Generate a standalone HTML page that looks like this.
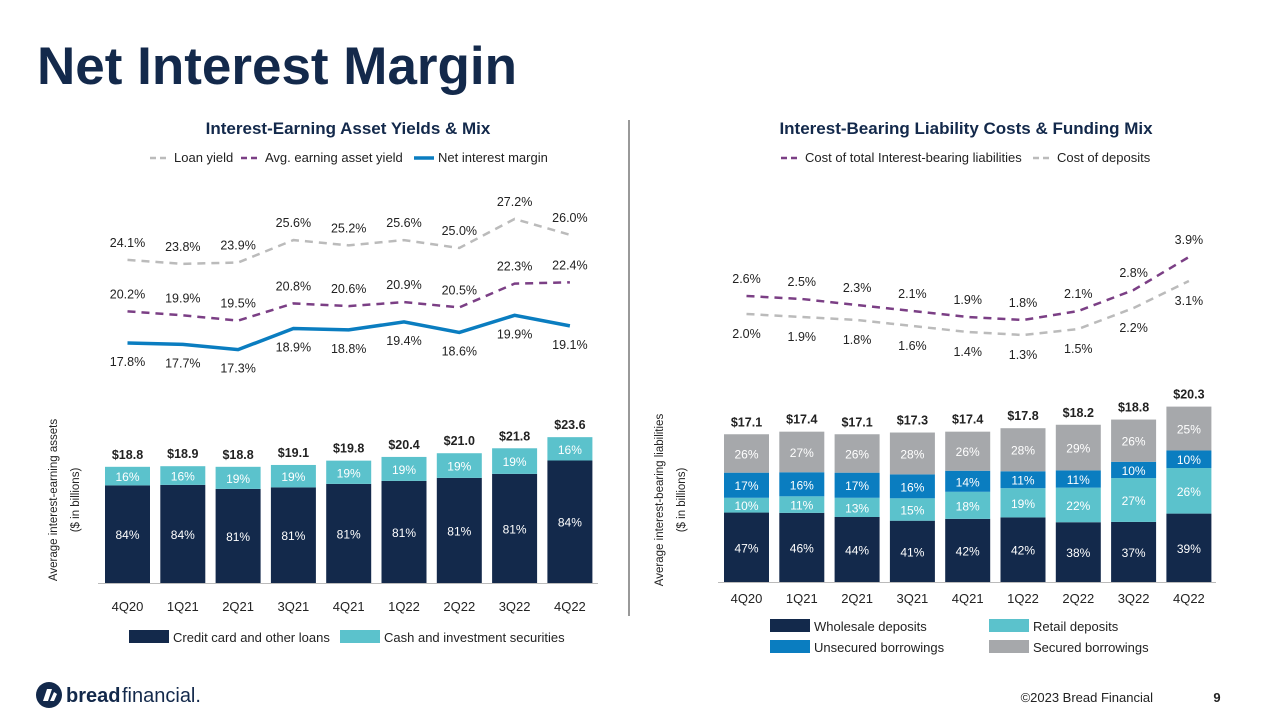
<!DOCTYPE html>
<html><head><meta charset="utf-8"><style>
body{margin:0;width:1280px;height:720px;background:#fff;font-family:"Liberation Sans",Arial,sans-serif;overflow:hidden}
svg text{font-family:"Liberation Sans",Arial,sans-serif}
</style></head><body>
<svg id="s" width="1280" height="720" xmlns="http://www.w3.org/2000/svg">
<text x="37" y="84" font-size="53" font-weight="bold" fill="#13294b">Net Interest Margin</text>
<line x1="629" y1="120" x2="629" y2="616" stroke="#333" stroke-width="1"/>
<text x="348" y="134" font-size="17" font-weight="bold" fill="#13294b" text-anchor="middle">Interest-Earning Asset Yields &amp; Mix</text>
<text x="966" y="134" font-size="17" font-weight="bold" fill="#13294b" text-anchor="middle">Interest-Bearing Liability Costs &amp; Funding Mix</text>
<g font-size="13" fill="#222">
<line x1="150" y1="158" x2="170" y2="158" stroke="#bbb" stroke-width="2.5" stroke-dasharray="6,4"/><text x="174" y="162">Loan yield</text>
<line x1="241" y1="158" x2="261" y2="158" stroke="#7b3f85" stroke-width="2.5" stroke-dasharray="6,4"/><text x="265" y="162">Avg. earning asset yield</text>
<line x1="414" y1="158" x2="434" y2="158" stroke="#0a7dc0" stroke-width="3.5"/><text x="438" y="162">Net interest margin</text>
</g>
<g font-size="13" fill="#222">
<line x1="781" y1="158" x2="801" y2="158" stroke="#7b3f85" stroke-width="2.5" stroke-dasharray="6,4"/><text x="805" y="162">Cost of total Interest-bearing liabilities</text>
<line x1="1033" y1="158" x2="1053" y2="158" stroke="#bbb" stroke-width="2.5" stroke-dasharray="6,4"/><text x="1057" y="162">Cost of deposits</text>
</g>
<text transform="translate(60,500) rotate(-90)" font-size="11.5" fill="#222" text-anchor="middle"><tspan x="0" dy="-3">Average  interest-earning  assets</tspan><tspan x="0" dy="22">($ in billions)</tspan></text>
<text transform="translate(666,500) rotate(-90)" font-size="11.5" fill="#222" text-anchor="middle"><tspan x="0" dy="-3">Average  interest-bearing  liabilities</tspan><tspan x="0" dy="22">($ in billions)</tspan></text>
<g id="L"></g><g id="R"></g>
<g font-size="13" fill="#222">
<rect x="129" y="630" width="40" height="13" fill="#13294b"/><text x="173" y="642">Credit card and other loans</text>
<rect x="340" y="630" width="40" height="13" fill="#5bc2cc"/><text x="384" y="642">Cash and investment securities</text>
</g>
<g font-size="13" fill="#222">
<rect x="770" y="619" width="40" height="13" fill="#13294b"/><text x="814" y="631">Wholesale deposits</text>
<rect x="989" y="619" width="40" height="13" fill="#5bc2cc"/><text x="1033" y="631">Retail deposits</text>
<rect x="770" y="640" width="40" height="13" fill="#0a7dc0"/><text x="814" y="652">Unsecured borrowings</text>
<rect x="989" y="640" width="40" height="13" fill="#a6a8ab"/><text x="1033" y="652">Secured borrowings</text>
</g>
<g>
<circle cx="49" cy="695" r="13" fill="#13294b"/>
<path d="M43 701 L47 689 L52 689 L48 701 Z M50 701 L54 692 L57 694 L54 701Z" fill="#fff"/>
<text x="66" y="702" font-size="20" font-weight="bold" fill="#13294b">bread</text><text x="122" y="702" font-size="20" fill="#13294b">financial.</text>
</g>
<text x="1153" y="702" font-size="13" fill="#222" text-anchor="end">©2023 Bread Financial</text>
<text x="1217" y="702" font-size="13" font-weight="bold" fill="#222" text-anchor="middle">9</text>
</svg>
<script>
const quarters=["4Q20","1Q21","2Q21","3Q21","4Q21","1Q22","2Q22","3Q22","4Q22"];
const assetTotals=[18.8,18.9,18.8,19.1,19.8,20.4,21.0,21.8,23.6];
const loanShare=[84,84,81,81,81,81,81,81,84];
const cashShare=[16,16,19,19,19,19,19,19,16];
const loanYield=[24.1,23.8,23.9,25.6,25.2,25.6,25.0,27.2,26.0];
const avgYield=[20.2,19.9,19.5,20.8,20.6,20.9,20.5,22.3,22.4];
const nim=[17.8,17.7,17.3,18.9,18.8,19.4,18.6,19.9,19.1];
const liabTotals=[17.1,17.4,17.1,17.3,17.4,17.8,18.2,18.8,20.3];
const wholesale=[47,46,44,41,42,42,38,37,39];
const retail=[10,11,13,15,18,19,22,27,26];
const unsecured=[17,16,17,16,14,11,11,10,10];
const secured=[26,27,26,28,26,28,29,26,25];
const costTotal=[2.6,2.5,2.3,2.1,1.9,1.8,2.1,2.8,3.9];
const costDeposits=[2.0,1.9,1.8,1.6,1.4,1.3,1.5,2.2,3.1];

const NS="http://www.w3.org/2000/svg";
function mk(p,t,a,txt){const e=document.createElementNS(NS,t);for(const k in a)e.setAttribute(k,a[k]);if(txt!==undefined)e.textContent=txt;p.appendChild(e);return e;}
const L=document.getElementById('L'),R=document.getElementById('R');
const lx=i=>127.5+i*55.3, rx=i=>746.5+i*55.3;
const lyBar=v=>583-v*6.18, ryBar=v=>582-v*8.64;
const lyLine=v=>578-v*13.2, ryLine=v=>296+(2.6-v)*30;
const bw=45;
quarters.forEach((q,i)=>{
  const top=lyBar(assetTotals[i]),h=583-top;
  const hl=h*loanShare[i]/100;
  let r=mk(L,'rect',{x:lx(i)-bw/2,y:583-hl,width:bw,height:hl,fill:'#13294b'});
  
  
  r=mk(L,'rect',{x:lx(i)-bw/2,y:top,width:bw,height:h-hl,fill:'#5bc2cc'});
  
  
  mk(L,'text',{x:lx(i),y:583-hl/2+5,'font-size':12,fill:'#fff','text-anchor':'middle'},loanShare[i]+'%');
  mk(L,'text',{x:lx(i),y:top+(h-hl)/2+5,'font-size':12,fill:'#fff','text-anchor':'middle'},cashShare[i]+'%');
  mk(L,'text',{x:lx(i),y:top-8,'font-size':12.5,'font-weight':'bold',fill:'#222','text-anchor':'middle'},'$'+assetTotals[i].toFixed(1));
  mk(L,'text',{x:lx(i),y:611,'font-size':13,fill:'#222','text-anchor':'middle'},q);
});
mk(L,'line',{x1:98,y1:583.5,x2:598,y2:583.5,stroke:'#bbb'});
function line(g,arr,xf,yf,st,name,off){
  const p=mk(g,'polyline',Object.assign({points:arr.map((v,i)=>xf(i)+','+yf(v)).join(' '),fill:'none'},st));
  
  
  arr.forEach((v,i)=>mk(g,'text',{x:xf(i),y:yf(v)+off,'font-size':12.5,fill:'#222','text-anchor':'middle'},v.toFixed(1)+'%'));
}
line(L,loanYield,lx,lyLine,{stroke:'#bbb','stroke-width':2.5,'stroke-dasharray':'8,6'},'loan-yield-line',-13);
line(L,avgYield,lx,lyLine,{stroke:'#7b3f85','stroke-width':2.5,'stroke-dasharray':'8,6'},'avg-earning-asset-yield-line',-13);
line(L,nim,lx,lyLine,{stroke:'#0a7dc0','stroke-width':3.5},'net-interest-margin-line',23);
const segs=[[wholesale,'#13294b','wholesale'],[retail,'#5bc2cc','retail'],[unsecured,'#0a7dc0','unsecured'],[secured,'#a6a8ab','secured']];
quarters.forEach((q,i)=>{
  const top=ryBar(liabTotals[i]),h=582-top;let y=582;
  segs.forEach(([arr,c,n])=>{
    const sh=h*arr[i]/100;y-=sh;
    const r=mk(R,'rect',{x:rx(i)-bw/2,y:y,width:bw,height:sh,fill:c});
    
    
    mk(R,'text',{x:rx(i),y:y+sh/2+5,'font-size':12,fill:'#fff','text-anchor':'middle'},arr[i]+'%');
  });
  mk(R,'text',{x:rx(i),y:top-8,'font-size':12.5,'font-weight':'bold',fill:'#222','text-anchor':'middle'},'$'+liabTotals[i].toFixed(1));
  mk(R,'text',{x:rx(i),y:603,'font-size':13,fill:'#222','text-anchor':'middle'},q);
});
mk(R,'line',{x1:718,y1:582.5,x2:1216,y2:582.5,stroke:'#bbb'});
line(R,costTotal,rx,ryLine,{stroke:'#7b3f85','stroke-width':2.5,'stroke-dasharray':'8,6'},'cost-total-liabilities-line',-13);
line(R,costDeposits,rx,ryLine,{stroke:'#bbb','stroke-width':2.5,'stroke-dasharray':'8,6'},'cost-of-deposits-line',24);
</script>
</body></html>
